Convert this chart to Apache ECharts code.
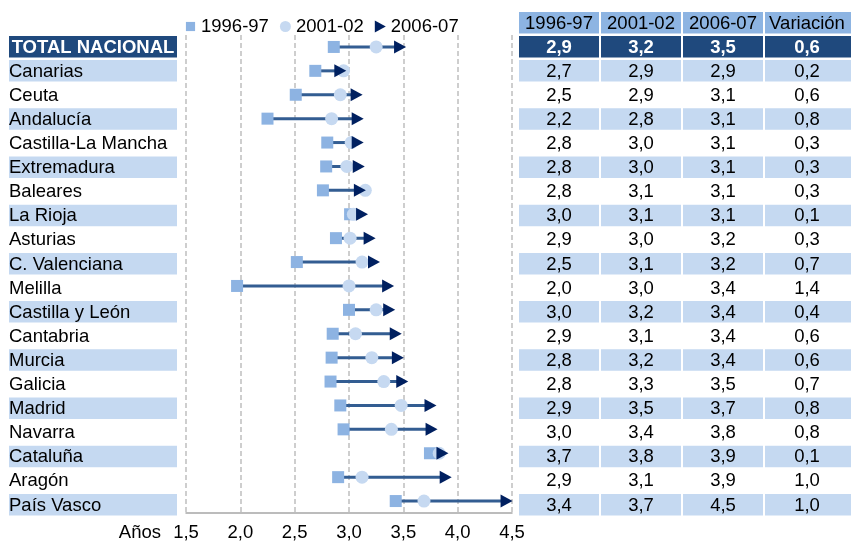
<!DOCTYPE html>
<html>
<head>
<meta charset="utf-8">
<script src="https://cdn.jsdelivr.net/npm/echarts@6/dist/echarts.min.js"></script>
<style>
html,body{margin:0;padding:0;background:#fff;}
#c{width:851px;height:542px;}
</style>
</head>
<body>
<div id="c"></div>
<script>
// ---- data ----
const regions = ['TOTAL NACIONAL','Canarias','Ceuta','Andalucía','Castilla-La Mancha','Extremadura','Baleares','La Rioja','Asturias','C. Valenciana','Melilla','Castilla y León','Cantabria','Murcia','Galicia','Madrid','Navarra','Cataluña','Aragón','País Vasco'];
const seriesNames = ['1996-97','2001-02','2006-07'];
const tableColumns = ['1996-97','2001-02','2006-07','Variación'];
// marker positions
const v1996 = [2.86,2.69,2.51,2.25,2.80,2.79,2.76,3.01,2.88,2.52,1.97,3.00,2.85,2.84,2.83,2.92,2.95,3.745,2.90,3.43];
const v2001 = [3.25,2.95,2.92,2.84,3.02,2.98,3.15,3.04,3.01,3.12,3.00,3.25,3.06,3.21,3.32,3.48,3.39,3.83,3.12,3.69];
const v2006 = [3.47,2.92,3.07,3.08,3.08,3.09,3.10,3.12,3.19,3.23,3.36,3.37,3.43,3.45,3.49,3.75,3.76,3.86,3.89,4.45];
// table values
const t1996 = [2.9,2.7,2.5,2.2,2.8,2.8,2.8,3.0,2.9,2.5,2.0,3.0,2.9,2.8,2.8,2.9,3.0,3.7,2.9,3.4];
const t2001 = [3.2,2.9,2.9,2.8,3.0,3.0,3.1,3.1,3.0,3.1,3.0,3.2,3.1,3.2,3.3,3.5,3.4,3.8,3.1,3.7];
const t2006 = [3.5,2.9,3.1,3.1,3.1,3.1,3.1,3.1,3.2,3.2,3.4,3.4,3.4,3.4,3.5,3.7,3.8,3.9,3.9,4.5];
const tVar  = [0.6,0.2,0.6,0.8,0.3,0.3,0.3,0.1,0.3,0.7,1.4,0.4,0.6,0.6,0.7,0.8,0.8,0.1,1.0,1.0];
const axisMin = 1.5, axisMax = 4.5, axisStep = 0.5;
const axisName = 'Años';

// ---- styles ----
const FONT = "'Liberation Sans', Arial, sans-serif";
const FS = 18.5;
const C_SQ = '#8DB3E2', C_CI = '#C6D9F1', C_TR = '#002060', C_LINE = '#335D92';
const C_DARK = '#1F497D', C_LIGHT = '#C5D9F1', C_HEAD = '#8DB4E2';
const fmt = v => v.toFixed(1).replace('.', ',');
const triPath = 'path://M0,0 L12,6.5 L0,13 Z';
const legendSquare = 'path://M0,0 M12,12 M1,1 L11,1 L11,11 L1,11 Z';

const chart = echarts.init(document.getElementById('c'), null, {renderer:'canvas'});

const rowIdx = regions.map((_, i) => i);
const tableRows = ['__head'].concat(regions);
function rowStyle(i) {
  return i === 0 ? 'total' : (i % 2 === 1 ? 'light' : 'white');
}
const tableData = [];
tableColumns.forEach((col, c) => tableData.push([c, 0, col, 'head']));
regions.forEach((r, i) => {
  [t1996, t2001, t2006, tVar].forEach((arr, c) => {
    tableData.push([c, i + 1, fmt(arr[i]), rowStyle(i)]);
  });
});

const option = {
  animation: false,
  backgroundColor: '#fff',
  textStyle: {fontFamily: FONT},
  legend: {
    left: 180, top: 12,
    itemGap: 11, itemWidth: 11, itemHeight: 12,
    textStyle: {fontSize: FS, color: '#000', fontFamily: FONT},
    data: [
      {name: seriesNames[0], icon: legendSquare, itemStyle: {color: C_SQ}},
      {name: seriesNames[1], icon: 'circle', itemStyle: {color: C_CI}},
      {name: seriesNames[2], icon: triPath, itemStyle: {color: C_TR}}
    ]
  },
  grid: [
    {left: 186, width: 326, top: 35, height: 482},      // plot
    {left: 9, width: 168, top: 35, height: 482},        // labels
    {left: 518, width: 328, top: 35 - 24.1, height: 482 + 24.1} // table
  ],
  xAxis: [
    {
      gridIndex: 0, type: 'value', min: axisMin, max: axisMax, interval: axisStep,
      name: axisName, nameLocation: 'start', nameGap: 25,
      nameTextStyle: {fontSize: FS, color: '#000', fontFamily: FONT, verticalAlign: 'top', padding: [10, 0, 0, 0]},
      axisLine: {show: true, lineStyle: {color: '#A6A6A6', width: 1.5}},
      axisTick: {show: false},
      axisLabel: {fontSize: FS, color: '#000', fontFamily: FONT, margin: 10, formatter: fmt},
      splitLine: {show: true, lineStyle: {color: '#BFBFBF', width: 1.5, type: [5, 3]}}
    },
    {gridIndex: 1, type: 'value', min: 0, max: 1, show: false},
    {gridIndex: 2, type: 'category', data: tableColumns, show: false}
  ],
  yAxis: [
    {gridIndex: 0, type: 'category', data: regions, inverse: true, show: false},
    {gridIndex: 1, type: 'category', data: regions, inverse: true, show: false},
    {gridIndex: 2, type: 'category', data: tableRows, inverse: true, show: false}
  ],
  series: [
    // row labels
    {
      type: 'custom', xAxisIndex: 1, yAxisIndex: 1, silent: true,
      data: rowIdx.map(i => [0, i]),
      encode: {x: 0, y: 1},
      renderItem: function (params, api) {
        const i = api.value(1);
        const p0 = api.coord([0, i]);
        const p1 = api.coord([1, i]);
        const h = api.size([0, 1])[1];
        const st = rowStyle(i);
        const children = [];
        if (st !== 'white') {
          children.push({type: 'rect', shape: {x: p0[0], y: p0[1] - h / 2 + 1, width: p1[0] - p0[0], height: h - 2.6},
            style: {fill: st === 'total' ? C_DARK : C_LIGHT}});
        }
        children.push({type: 'text', style: {
          text: regions[i], x: st === 'total' ? (p0[0] + p1[0]) / 2 : p0[0], y: p0[1] + 0.5,
          align: st === 'total' ? 'center' : 'left', verticalAlign: 'middle',
          font: (st === 'total' ? 'bold ' : '') + FS + 'px ' + FONT,
          fill: st === 'total' ? '#fff' : '#000'}});
        return {type: 'group', children: children};
      }
    },
    // table
    {
      type: 'custom', xAxisIndex: 2, yAxisIndex: 2, silent: true,
      data: tableData,
      encode: {x: 0, y: 1},
      renderItem: function (params, api) {
        const d = tableData[params.dataIndex];
        const c = d[0], r = d[1], txt = d[2], st = d[3];
        const p = api.coord([c, r]);
        const sz = api.size([1, 1]);
        const x0 = p[0] - sz[0] / 2 + 1;
        const w = (c === tableColumns.length - 1) ? api.getWidth() - x0 : sz[0] - 2;
        const fill = st === 'head' ? C_HEAD : st === 'total' ? C_DARK : st === 'light' ? C_LIGHT : '#fff';
        return {type: 'group', children: [
          {type: 'rect', shape: {x: x0, y: p[1] - sz[1] / 2 + 1, width: w, height: sz[1] - 2.6}, style: {fill: fill}},
          {type: 'text', style: {text: txt, x: p[0] + (c === tableColumns.length - 1 ? 2 : 0), y: p[1] + 0.5,
            align: 'center', verticalAlign: 'middle',
            font: (st === 'total' ? 'bold ' : '') + FS + 'px ' + FONT,
            fill: st === 'total' ? '#fff' : '#000'}}
        ]};
      }
    },
    // connecting lines 1996 -> 2006
    {
      type: 'custom', xAxisIndex: 0, yAxisIndex: 0, silent: true, z: 2,
      data: rowIdx.map(i => [v1996[i], v2006[i], i]),
      encode: {x: [0, 1], y: 2},
      renderItem: function (params, api) {
        const i = api.value(2);
        const a = api.coord([api.value(0), i]);
        const b = api.coord([api.value(1), i]);
        return {type: 'line', shape: {x1: a[0], y1: a[1], x2: b[0], y2: b[1]},
          style: {stroke: C_LINE, lineWidth: 3}};
      }
    },
    {
      name: seriesNames[0], type: 'scatter', xAxisIndex: 0, yAxisIndex: 0, z: 3,
      symbol: 'rect', symbolSize: 12, itemStyle: {color: C_SQ, opacity: 1},
      data: rowIdx.map(i => [v1996[i], i])
    },
    {
      name: seriesNames[1], type: 'scatter', xAxisIndex: 0, yAxisIndex: 0, z: 4,
      symbol: 'circle', symbolSize: 13, itemStyle: {color: C_CI, opacity: 1},
      data: rowIdx.map(i => [v2001[i], i])
    },
    {
      name: seriesNames[2], type: 'scatter', xAxisIndex: 0, yAxisIndex: 0, z: 5,
      symbol: triPath, symbolSize: [12, 13], itemStyle: {color: C_TR, opacity: 1},
      data: rowIdx.map(i => [v2006[i], i])
    }
  ]
};
chart.setOption(option);
</script>
</body>
</html>
